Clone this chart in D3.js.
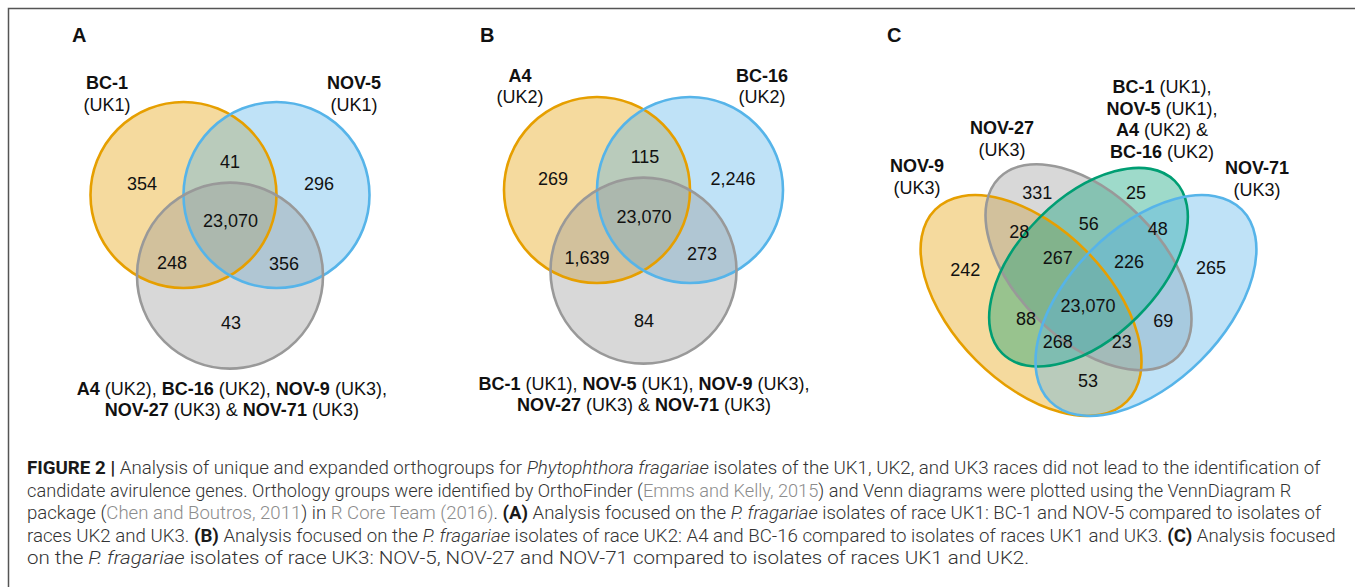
<!DOCTYPE html>
<html><head><meta charset="utf-8">
<script src="https://cdn.jsdelivr.net/npm/d3@7"></script>
<style>body{margin:0;background:#fff}svg{display:block}</style>
</head><body>
<script>
// ================= DATA =================
// Panel A: BC-1 (UK1), NOV-5 (UK1) vs. all other isolates
const setNamesA = ["BC-1", "NOV-5", "Others"];
const countsA = [354, 41, 296, 23070, 248, 356, 43];
// Panel B: A4 (UK2), BC-16 (UK2) vs. all other isolates
const setNamesB = ["A4", "BC-16", "Others"];
const countsB = [269, 115, 2246, 23070, 1639, 273, 84];
// Panel C: NOV-9, NOV-27, UK1+UK2 group, NOV-71
const setNamesC = ["NOV-9", "NOV-27", "UK1+UK2", "NOV-71"];
const countsC = [331, 25, 28, 56, 48, 242, 267, 226, 265, 23070, 88, 69, 268, 23, 53];

// Labels: lines of [text, bold]
const labelsA = [
  [[["BC-1", true]], [["(UK1)", false]]],
  [[["NOV-5", true]], [["(UK1)", false]]],
  [[["A4", true], [" (UK2), ", false], ["BC-16", true], [" (UK2), ", false], ["NOV-9", true], [" (UK3),", false]],
   [["NOV-27", true], [" (UK3) & ", false], ["NOV-71", true], [" (UK3)", false]]]
];
const labelsB = [
  [[["A4", true]], [["(UK2)", false]]],
  [[["BC-16", true]], [["(UK2)", false]]],
  [[["BC-1", true], [" (UK1), ", false], ["NOV-5", true], [" (UK1), ", false], ["NOV-9", true], [" (UK3),", false]],
   [["NOV-27", true], [" (UK3) & ", false], ["NOV-71", true], [" (UK3)", false]]]
];
const labelsC = [
  [[["NOV-9", true]], [["(UK3)", false]]],
  [[["NOV-27", true]], [["(UK3)", false]]],
  [[["BC-1", true], [" (UK1),", false]], [["NOV-5", true], [" (UK1),", false]],
   [["A4", true], [" (UK2) &", false]], [["BC-16", true], [" (UK2)", false]]],
  [[["NOV-71", true]], [["(UK3)", false]]]
];
const panelLetters = ["A", "B", "C"];

const captionLines = [
  [["FIGURE 2 |", "b"], [" Analysis of unique and expanded orthogroups for ", ""], ["Phytophthora fragariae", "i"], [" isolates of the UK1, UK2, and UK3 races did not lead to the identification of", ""]],
  [["candidate avirulence genes. Orthology groups were identified by OrthoFinder (", ""], ["Emms and Kelly, 2015", "l"], [") and Venn diagrams were plotted using the VennDiagram R", ""]],
  [["package (", ""], ["Chen and Boutros, 2011", "l"], [") in ", ""], ["R Core Team (2016)", "l"], [". ", ""], ["(A)", "b"], [" Analysis focused on the ", ""], ["P. fragariae", "i"], [" isolates of race UK1: BC-1 and NOV-5 compared to isolates of", ""]],
  [["races UK2 and UK3. ", ""], ["(B)", "b"], [" Analysis focused on the ", ""], ["P. fragariae", "i"], [" isolates of race UK2: A4 and BC-16 compared to isolates of races UK1 and UK3. ", ""], ["(C)", "b"], [" Analysis focused", ""]],
  [["on the ", ""], ["P. fragariae", "i"], [" isolates of race UK3: NOV-5, NOV-27 and NOV-71 compared to isolates of races UK1 and UK2.", ""]]
];

// ================= LAYOUT / STYLE =================
const W = 1355, H = 587;
const colOrange = "#E69F00", colBlue = "#56B4E9", colGray = "#999999", colGreen = "#009E73";
const fillAlpha = 0.38;
const numFont = "'Liberation Sans', Arial, Helvetica, sans-serif";

// 3-set layout in unit coords (radius = 1)
const circles3 = [[-0.5, -0.29], [0.5, -0.29], [0, 0.577]];
const regions3A = [[-0.946, -0.419], [0, -0.645], [0.957, -0.419], [0.005, -0.02], [-0.624, 0.441], [0.58, 0.45], [0.01, 1.086]];
const regions3B = [[-0.973, -0.419], [0.016, -0.645], [0.962, -0.419], [0.005, -0.01], [-0.608, 0.441], [0.629, 0.398], [0.005, 1.108]];
const labelPosA = [[-1.323, -1.43], [1.333, -1.43], [0.02, 1.86]];
const labelPosB = [[-1.328, -1.452], [1.274, -1.452], [0.005, 1.86]];

// 4-set VennDiagram-style layout (unit square, y up)
const ellipsesC = [
  {x: 0.35, y: 0.47, a: 0.354, b: 0.2025, rot: 135},
  {x: 0.50, y: 0.57, a: 0.330, b: 0.189, rot: 135},
  {x: 0.50, y: 0.57, a: 0.3185, b: 0.182, rot: 45},
  {x: 0.65, y: 0.47, a: 0.354, b: 0.2025, rot: 45}
];
const regionsC = [[0.366, 0.766], [0.624, 0.764], [0.319, 0.662], [0.501, 0.683], [0.681, 0.672],
  [0.178, 0.565], [0.420, 0.594], [0.606, 0.584], [0.820, 0.568], [0.499, 0.471],
  [0.337, 0.435], [0.695, 0.430], [0.420, 0.375], [0.587, 0.375], [0.499, 0.275]];
const labelPosC = [[0.052, 0.819], [0.274, 0.918], [0.692, 1.025], [0.940, 0.813]];

const svg = d3.select("body").append("svg").attr("width", W).attr("height", H)
  .attr("viewBox", `0 0 ${W} ${H}`);

// frame (top + left)
svg.append("path").attr("d", `M${W},8.5H8.5V${H}`).attr("fill", "none")
  .attr("stroke", "#555").attr("stroke-width", 1.5);

const fmt = d3.format(",");

function drawLines(g, lines, x, y, lh, size) {
  lines.forEach((segs, i) => {
    const t = g.append("text").attr("x", x).attr("y", y + i * lh)
      .attr("text-anchor", "middle").attr("font-family", numFont)
      .attr("font-size", size).attr("fill", "#111");
    segs.forEach(([s, b]) => t.append("tspan").text(s).attr("font-weight", b ? "bold" : "normal"));
  });
}

function draw3(sc, colors, counts, regions, labels, labelPos) {
  const g = svg.append("g");
  const r = sc.x(1) - sc.x(0);
  g.selectAll("circle.fill").data(circles3).join("circle").attr("class", "fill")
    .attr("cx", d => sc.x(d[0])).attr("cy", d => sc.y(d[1])).attr("r", r)
    .attr("fill", (d, i) => colors[i]).attr("fill-opacity", fillAlpha).attr("stroke", "none");
  g.selectAll("circle.line").data(circles3).join("circle").attr("class", "line")
    .attr("cx", d => sc.x(d[0])).attr("cy", d => sc.y(d[1])).attr("r", r)
    .attr("fill", "none").attr("stroke", (d, i) => colors[i]).attr("stroke-width", 2.6);
  g.selectAll("text.num").data(counts).join("text").attr("class", "num")
    .attr("x", (d, i) => sc.x(regions[i][0])).attr("y", (d, i) => sc.y(regions[i][1]))
    .attr("dy", "0.36em").attr("text-anchor", "middle")
    .attr("font-family", numFont).attr("font-size", 18).attr("fill", "#111")
    .text(d => fmt(d));
  labels.forEach((lines, i) => {
    drawLines(g, lines, sc.x(labelPos[i][0]), sc.y(labelPos[i][1]), 21.5, 18);
  });
}

// Panel A
const scA = {x: d3.scaleLinear().domain([-1, 1]).range([230 - 93, 230 + 93]),
             y: d3.scaleLinear().domain([-1, 1]).range([222 - 93, 222 + 93])};
draw3(scA, [colOrange, colBlue, colGray], countsA, regions3A, labelsA, labelPosA);
// Panel B
const scB = {x: d3.scaleLinear().domain([-1, 1]).range([643.5 - 93, 643.5 + 93]),
             y: d3.scaleLinear().domain([-1, 1]).range([217 - 93, 217 + 93])};
draw3(scB, [colOrange, colBlue, colGray], countsB, regions3B, labelsB, labelPosB);

// Panel C
const xC = d3.scaleLinear().domain([0, 1]).range([897, 1280]);
const yC = d3.scaleLinear().domain([0, 1]).range([485.5, 102.5]);
const colorsC = [colOrange, colGray, colGreen, colBlue];
const gC = svg.append("g");
const u = xC(1) - xC(0);
["fill", "line"].forEach(kind => {
  gC.selectAll("ellipse." + kind).data(ellipsesC).join("ellipse").attr("class", kind)
    .attr("cx", d => xC(d.x)).attr("cy", d => yC(d.y))
    .attr("rx", d => d.a * u).attr("ry", d => d.b * u)
    .attr("transform", d => `rotate(${-d.rot},${xC(d.x)},${yC(d.y)})`)
    .attr("fill", (d, i) => kind === "fill" ? colorsC[i] : "none")
    .attr("fill-opacity", kind === "fill" ? fillAlpha : null)
    .attr("stroke", (d, i) => kind === "line" ? colorsC[i] : "none")
    .attr("stroke-width", 2.6);
});
gC.selectAll("text.num").data(countsC).join("text").attr("class", "num")
  .attr("x", (d, i) => xC(regionsC[i][0])).attr("y", (d, i) => yC(regionsC[i][1]))
  .attr("dy", "0.36em").attr("text-anchor", "middle")
  .attr("font-family", numFont).attr("font-size", 18).attr("fill", "#111")
  .text(d => fmt(d));
labelsC.forEach((lines, i) => drawLines(gC, lines, xC(labelPosC[i][0]), yC(labelPosC[i][1]), 21.7, 18));

// panel letters
const letterX = [72, 480, 887];
svg.selectAll("text.letter").data(panelLetters).join("text").attr("class", "letter")
  .attr("x", (d, i) => letterX[i]).attr("y", 42)
  .attr("font-family", numFont).attr("font-weight", "bold").attr("font-size", 20).attr("fill", "#111")
  .text(d => d);

// caption
const capX = 27, capBase = 474, capLH = 22.5;
const capEnds = [1322, 1292, 1322, 1336, 1030];
captionLines.forEach((segs, i) => {
  const t = svg.append("text").attr("x", 0).attr("y", 0)
    .attr("font-family", "Roboto, 'Liberation Sans', sans-serif").attr("font-weight", 300)
    .attr("font-size", 17.5).attr("fill", "#333");
  segs.forEach(([s, st]) => {
    const ts = t.append("tspan").text(s);
    if (st === "b") ts.attr("font-weight", 700).attr("fill", "#1a1a1a");
    if (st === "i") ts.attr("font-style", "italic");
    if (st === "l") ts.attr("fill", "#8c8c8c");
  });
  const w = t.node().getBBox().width;
  const k = (capEnds[i] - capX) / w;
  t.attr("transform", `translate(${capX},${capBase + i * capLH}) scale(${k},1)`);
});
</script>
</body></html>
